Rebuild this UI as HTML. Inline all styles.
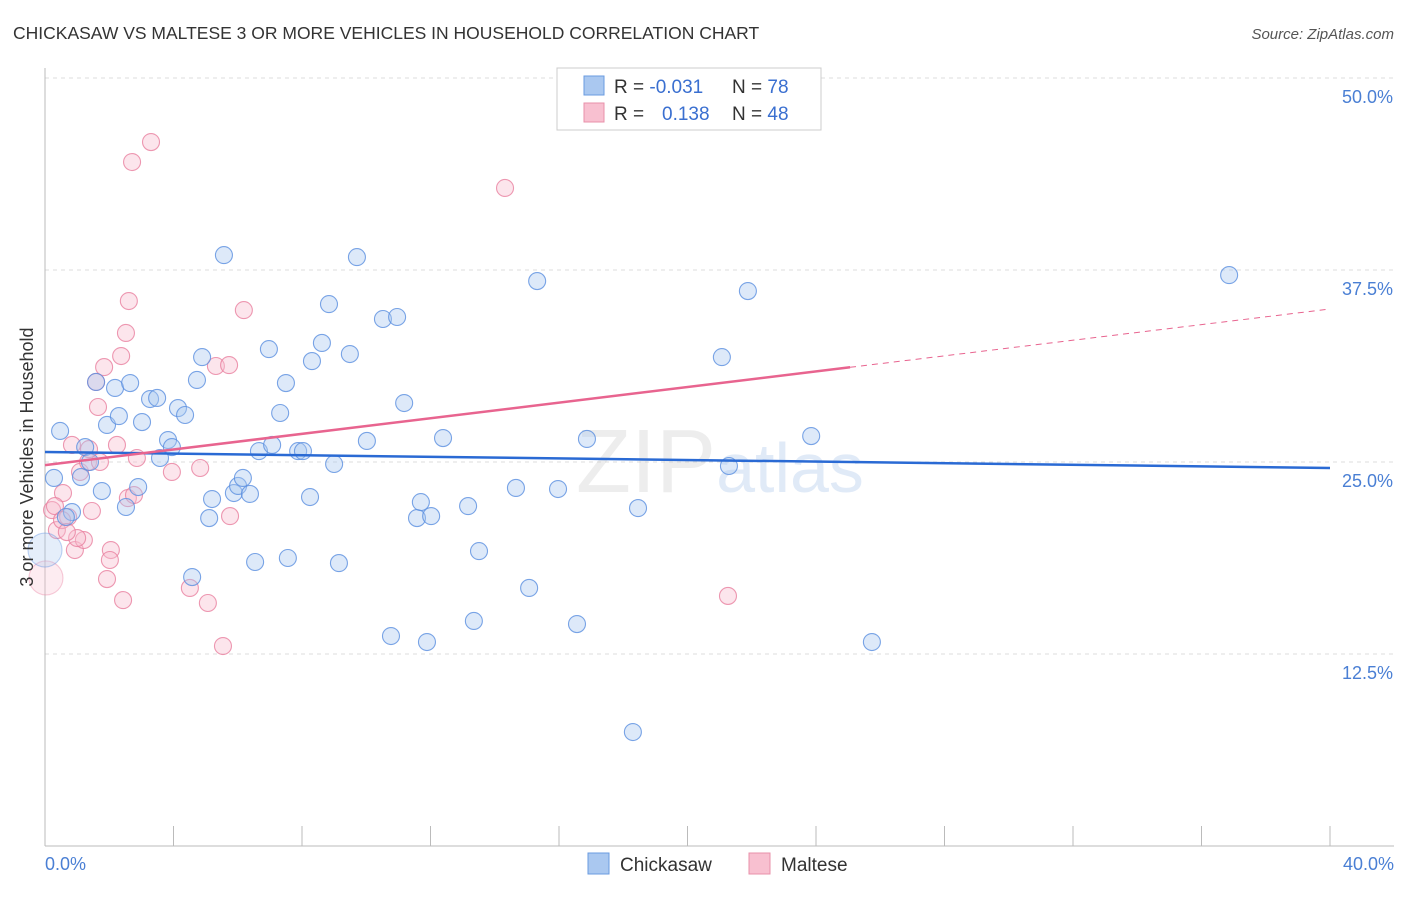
<!DOCTYPE html>
<html><head><meta charset="utf-8">
<style>
body{margin:0;background:#fff;font-family:"Liberation Sans",sans-serif;}
svg text{font-family:"Liberation Sans",sans-serif;}
</style></head>
<body>
<svg id="chart" width="1406" height="892" viewBox="0 0 1406 892">
<text x="13" y="39" font-size="17.5" fill="#333">CHICKASAW VS MALTESE 3 OR MORE VEHICLES IN HOUSEHOLD CORRELATION CHART</text>
<text x="1394" y="39" font-size="15" fill="#555" font-style="italic" text-anchor="end">Source: ZipAtlas.com</text>
<g id="grid"></g>
<line x1="45" y1="68" x2="45" y2="846" stroke="#bbb"/>
<line x1="45" y1="846" x2="1394" y2="846" stroke="#bbb"/>
<g id="xticks"></g>
<g id="ylabels"></g>
<text x="45" y="870" font-size="18" fill="#4a7fd4">0.0%</text>
<text x="1394" y="870" font-size="18" fill="#4a7fd4" text-anchor="end">40.0%</text>
<text x="720" y="492" font-size="90" fill="#ccc" opacity="0.35" text-anchor="middle" font-family="Liberation Serif">ZIP<tspan fill="#a9c4ea" font-family="Liberation Sans" font-size="70">atlas</tspan></text>
<g id="pts"></g>
<g id="trends"></g>
<text transform="translate(33,457) rotate(-90)" font-size="18" fill="#333" text-anchor="middle">3 or more Vehicles in Household</text>
<g>
<rect x="557" y="68" width="264" height="62" fill="#fff" stroke="#ccc"/>
<rect x="584" y="76" width="20" height="19" fill="#aac8f0" stroke="#6a9be0"/>
<rect x="584" y="103" width="20" height="19" fill="#f8c0d0" stroke="#e890aa"/>
<text x="614" y="93" font-size="19" fill="#333">R = <tspan fill="#3a6fd0">-0.031</tspan><tspan x="732">N = </tspan><tspan fill="#3a6fd0">78</tspan></text>
<text x="614" y="120" font-size="19" fill="#333">R = <tspan x="662" fill="#3a6fd0">0.138</tspan><tspan x="732">N = </tspan><tspan fill="#3a6fd0">48</tspan></text>
</g>
<g>
<rect x="588" y="853" width="21" height="21" fill="#aac8f0" stroke="#6a9be0"/>
<text x="620" y="871" font-size="19" fill="#333">Chickasaw</text>
<rect x="749" y="853" width="21" height="21" fill="#f8c0d0" stroke="#e890aa"/>
<text x="781" y="871" font-size="19" fill="#333">Maltese</text>
</g>
</svg>
<script>
const yTicks=[12.5,25,37.5,50];
const yTickLabels=["12.5%","25.0%","37.5%","50.0%"];
const xTicks=[0,4,8,12,16,20,24,28,32,36,40];
const blueX=[0.28,0.47,0.84,1.25,1.59,1.77,1.93,2.18,2.30,2.52,2.65,2.90,3.02,3.27,3.49,3.58,3.83,3.95,4.14,4.36,4.58,4.73,4.89,5.11,5.20,5.57,5.88,6.01,6.16,6.38,6.54,6.66,6.97,7.07,7.32,7.50,7.56,7.88,8.03,8.25,8.31,8.62,8.84,9.00,9.15,9.49,9.71,10.02,10.52,10.77,10.96,11.18,11.58,11.70,11.89,12.02,12.39,13.17,13.35,13.51,14.66,15.07,15.32,15.97,16.56,16.87,18.30,18.46,21.07,21.29,21.88,23.85,25.74,36.86,0.0,0.65,1.40,1.12];
const blueY=[23.96,27.02,21.74,25.97,30.21,23.11,27.41,29.82,27.99,22.07,30.14,23.37,27.60,29.10,29.17,25.26,26.43,25.97,28.51,28.06,17.51,30.34,31.83,21.35,22.59,38.47,22.98,23.44,23.96,22.92,18.49,25.71,32.35,26.11,28.19,30.14,18.75,25.71,25.71,22.72,31.57,32.75,35.28,24.87,18.42,32.03,38.34,26.37,34.31,13.67,34.44,28.84,21.35,22.39,13.28,21.48,26.56,22.13,14.65,19.20,23.31,16.80,36.78,23.24,14.45,26.50,7.42,22.00,31.83,24.74,36.13,26.69,13.28,37.17,19.27,21.42,25.0,24.02];
const pinkX=[0.03,0.22,0.37,0.56,0.72,0.84,0.93,1.09,1.21,1.34,1.46,1.59,1.65,1.71,1.84,1.93,2.05,2.24,2.37,2.43,2.52,2.58,2.61,2.71,2.77,2.86,3.30,3.95,4.51,4.83,5.07,5.32,5.54,5.73,5.76,6.19,14.32,21.26,0.31,0.53,1.00,1.37,0.68,2.02];
const pinkY=[17.45,21.87,20.57,22.98,21.42,26.11,19.27,24.35,19.92,25.0,21.81,30.21,28.58,25.0,31.18,17.38,19.27,26.11,31.90,16.01,33.40,22.65,35.48,44.53,22.85,25.26,45.83,24.35,16.80,24.61,15.82,31.25,13.02,31.31,21.48,34.89,42.84,16.28,22.13,21.22,20.05,25.84,20.44,18.62];
const blueTrend=[25.65,24.61];
const pinkTrend=[24.8,34.96];
const pinkSolidEnd=25.06;
const NS="http://www.w3.org/2000/svg";
const sx=v=>45+v/40*1285, sy=v=>846-v/50*768;
function mk(tag,attrs,parent){const e=document.createElementNS(NS,tag);for(const k in attrs)e.setAttribute(k,attrs[k]);document.getElementById(parent).appendChild(e);return e;}
yTicks.forEach((t,i)=>{
 const l=mk('line',{x1:45,x2:1394,y1:sy(t),y2:sy(t),stroke:'#ddd','stroke-dasharray':'4,4'},'grid');
 
 
 const tx=mk('text',{x:1393,y:sy(t)+25,'font-size':18,fill:'#4a7fd4','text-anchor':'end'},'ylabels');
 tx.textContent=yTickLabels[i];
 
 
});
xTicks.forEach(t=>{
 const l=mk('line',{x1:sx(t),x2:sx(t),y1:826,y2:846,stroke:'#bbb'},'xticks');
 
 
});
function dot(x,y,c,s,r,big){
 return mk('circle',{cx:sx(x),cy:sy(y),r:r,fill:c,'fill-opacity':big?0.3:0.4,stroke:s,'stroke-opacity':big?0.4:0.8,'stroke-width':1.1},'pts');
}
pinkX.forEach((x,i)=>{
 const e=dot(x,pinkY[i],'#f8bfd0','#e8809f',i===0?17:8.5,i===0);
 
 
});
blueX.forEach((x,i)=>{
 const e=dot(x,blueY[i],'#aac8f0','#5a8ee0',i===74?17:8.5,i===74);
 
 
});
const bl=mk('line',{x1:sx(0),y1:sy(blueTrend[0]),x2:sx(40),y2:sy(blueTrend[1]),stroke:'#2a6ad4','stroke-width':2.5},'trends');


const pm=pinkTrend[0]+(pinkTrend[1]-pinkTrend[0])*pinkSolidEnd/40;
const pl=mk('line',{x1:sx(0),y1:sy(pinkTrend[0]),x2:sx(pinkSolidEnd),y2:sy(pm),stroke:'#e8648f','stroke-width':2.5},'trends');


const pd=mk('line',{x1:sx(pinkSolidEnd),y1:sy(pm),x2:sx(40),y2:sy(pinkTrend[1]),stroke:'#e8648f','stroke-width':1,'stroke-dasharray':'6,5'},'trends');


</script>
</body></html>
